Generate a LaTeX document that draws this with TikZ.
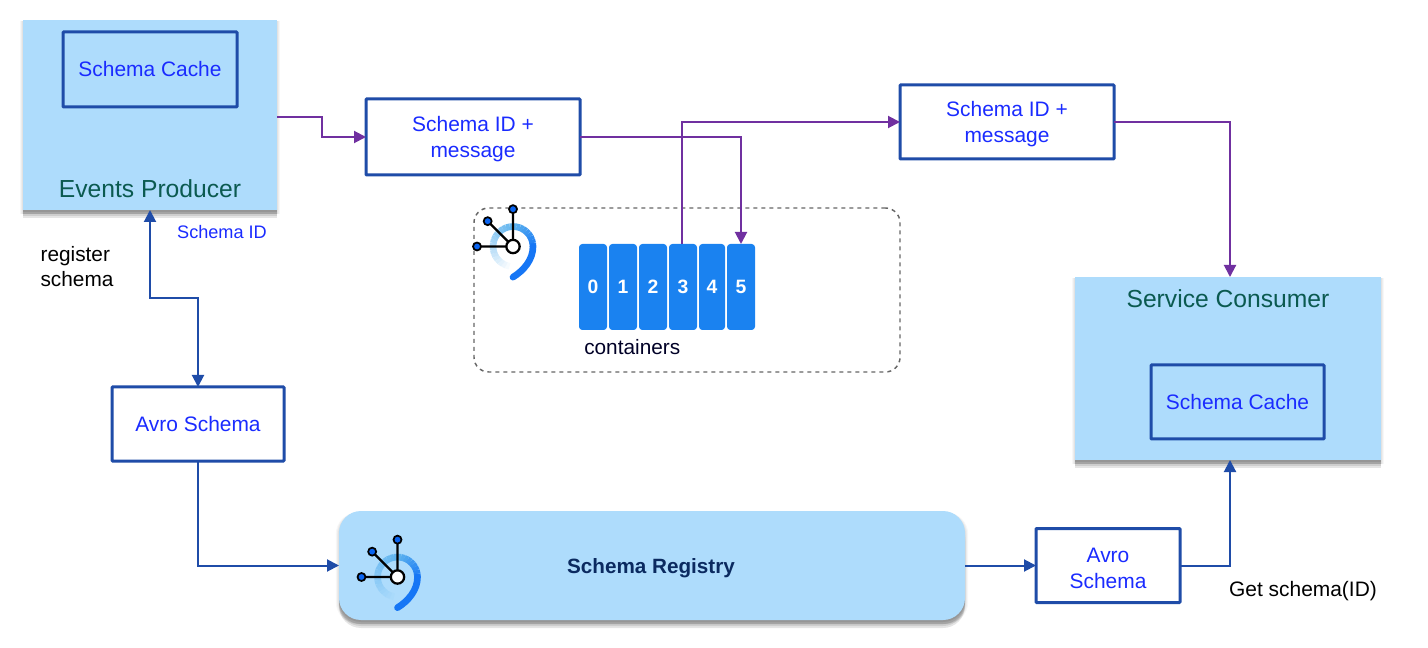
\documentclass[tikz,border=0pt]{standalone}
\usepackage{fontspec}
\setmainfont{Liberation Sans}
\usetikzlibrary{arrows.meta, positioning, backgrounds}
\definecolor{boxfill}{RGB}{174,220,252}
\definecolor{boxline}{RGB}{31,76,168}
\definecolor{boxtext}{RGB}{26,43,255}
\definecolor{teal}{RGB}{11,90,80}
\definecolor{navy}{RGB}{11,42,96}
\definecolor{flowpurple}{RGB}{112,48,160}
\definecolor{slotblue}{RGB}{26,130,240}
\definecolor{ringlight}{RGB}{92,178,238}
\definecolor{ringdark}{RGB}{22,118,245}
\definecolor{dotblue}{RGB}{10,100,240}
\tikzset{
    panel/.style={fill=boxfill,outer sep=0pt,inner sep=0pt},
    schemabox/.style={draw=boxline,line width=2.25pt,rounded corners=.5pt,outer sep=0pt,align=center,text=boxtext,
        font=\fontsize{15.7}{19.5}\selectfont},
    twoline/.style={text height=34.5pt},
    slot/.style={fill=slotblue,rounded corners=2.5pt,minimum width=21pt,minimum height=64.5pt,inner sep=0pt,outer sep=0pt,
        text=white,font=\bfseries\fontsize{14.5}{18}\selectfont},
    plainlabel/.style={font=\fontsize{15.6}{18.75}\selectfont,inner sep=0pt,align=left},
    flow/.style={flowpurple,line width=1.5pt,-{Triangle[length=9pt,width=9pt]}},
    regflow/.style={boxline,line width=1.5pt,-{Triangle[length=9pt,width=9pt]}},
    hubicon/.pic={
        \foreach \a [evaluate=\a as \m using {(270-\a)/1.8}] in {270,260,...,100}
            \draw[line width=5pt,ringlight!\m!#1] (\a:15pt) arc[start angle=\a,delta angle=-10.5,radius=15pt];
        \foreach \a [evaluate=\a as \m using {(90-\a)/0.9}] in {90,80,...,10}
            \draw[line width=5pt,ringdark!\m!ringlight] (\a:15pt) arc[start angle=\a,delta angle=-10.5,radius=15pt];
        \draw[line width=5pt,ringdark,line cap=round] (15pt,0) .. controls (15pt,-10pt) and (8pt,-18pt) .. (0,-23pt);
        \draw[line width=1.7pt] (0,0) -- (-27pt,0) (0,0) -- (-19pt,19pt) (0,0) -- (0,28pt);
        \foreach \p in {(-27pt,0),(-19pt,19pt),(0,28pt)}
            \draw[line width=1.3pt,fill=dotblue] \p circle (3pt);
        \draw[line width=1.7pt,fill=white] (0,0) circle (5pt);
    }
}
\begin{document}
\begin{tikzpicture}[x=.75pt,y=.75pt]
    \useasboundingbox (0,0) rectangle (1428,-648);
    \node[panel,minimum width=190.5pt,minimum height=142.5pt] (producer) at (150,-115) {};
    \node[schemabox,fill=boxfill,minimum width=130.5pt,minimum height=56.25pt,below=9pt of producer.north] (cacheP) {Schema Cache};
    \node[above=9.25pt of producer.south,inner sep=0pt,text=teal,font=\fontsize{18.5}{22}\selectfont] (producerT) {Events Producer};
    \node[schemabox,twoline,minimum width=160.5pt,minimum height=57pt,right=66.75pt of producer.east,yshift=-16.5pt] (msgA) {Schema ID +\\message};
    \node[schemabox,twoline,minimum width=160.5pt,minimum height=55.5pt,right=240pt of msgA.east,yshift=11.25pt] (msgB) {Schema ID +\\message};
    \node[draw=black!60,line width=1.1pt,dashed,rounded corners=11pt,minimum width=319.5pt,minimum height=123pt,outer sep=0pt] (group) at (687,-290) {};
    \pic at (513,-246.5) {hubicon=white};
    \node[slot] (C0) at (593,-287) {0};
    \foreach \x/\n in {1/0,2/1,3/2} {
        \node[slot,right=1.5pt of C\n] (C\x) {\x};
    }
    \node[slot,minimum width=19.5pt,right=1.5pt of C3] (C4) {4};
    \node[slot,right=1.5pt of C4] (C5) {5};
    \node[plainlabel,below right=7pt and 3.75pt of C0.south west,text={black!85!blue}] (containers) {containers};
    \node[panel,minimum width=229.5pt,minimum height=137.25pt] (consumer) at (1228,-368.5) {};
    \node[below=9pt of consumer.north,inner sep=0pt,text=teal,font=\fontsize{18.5}{22}\selectfont] (consumerT) {Service Consumer};
    \node[schemabox,fill=boxfill,minimum width=129.75pt,minimum height=55.5pt] (cacheC) at (1237.5,-402) {Schema Cache};
    \node[schemabox,minimum width=129pt,minimum height=55.5pt,below=132.75pt of producer.south,xshift=36pt] (avroA) {Avro Schema};
    \node[panel,rounded corners=16.5pt,minimum width=469.5pt,minimum height=81.75pt] (registry) at (652,-565.5) {};
    \node[text=navy,inner sep=0pt,font=\bfseries\fontsize{15.5}{18}\selectfont] (registryT) at (651,-568) {Schema Registry};
    \pic at (397.5,-577) {hubicon=boxfill};
    \node[schemabox,twoline,minimum width=108pt,minimum height=55.5pt,right=53.25pt of registry.east] (avroB) {Avro\\Schema};
    \node[plainlabel,text=boxtext,font=\fontsize{13.6}{16}\selectfont] (schemaid) at (222,-232) {Schema ID};
    \node[plainlabel] (register) at (77,-267) {register\\schema};
    \node[plainlabel,font=\fontsize{15.7}{18.75}\selectfont] (getschema) at (1303,-591) {Get schema(ID)};
    \begin{scope}[on background layer]
    \foreach \n/\r in {producer/0pt,consumer/0pt,registry/16.5pt} {
        \foreach \s/\o in {1.5/.08,3/.1,4.5/.1,6/.1} {
            \fill[black,opacity=\o,rounded corners=\r] ([yshift=-\s pt]\n.south west) rectangle ([yshift=-\s pt]\n.north east);
        }
        \foreach \s/\o in {.8/.05,1.6/.04,2.4/.03} {
            \fill[black,opacity=\o,rounded corners=\r] ([xshift=-\s pt,yshift=-3pt]\n.south west) rectangle ([xshift=\s pt,yshift=-1pt]\n.north east);
        }
    }
    \end{scope}
    \draw[flow] ([yshift=-1.5pt]producer.east) -- ++(45,0) |- (msgA.west);
    \draw[flow] (msgA.east) -| (C5.north);
    \draw[flow] ([xshift=-1pt]C3.north) |- (msgB.west);
    \draw[flow] (msgB.east) -| ([xshift=1.5pt]consumer.north);
    \draw[regflow,{Triangle[length=9pt,width=9pt]}-{Triangle[length=9pt,width=9pt]}] (producer.south) -- ++(0,-88) -| (avroA.north);
    \draw[regflow] (avroA.south) |- (registry.west);
    \draw[regflow] (registry.east) -- (avroB.west);
    \draw[regflow] (avroB.east) -| ([xshift=1.5pt]consumer.south);
\end{tikzpicture}
\end{document}
